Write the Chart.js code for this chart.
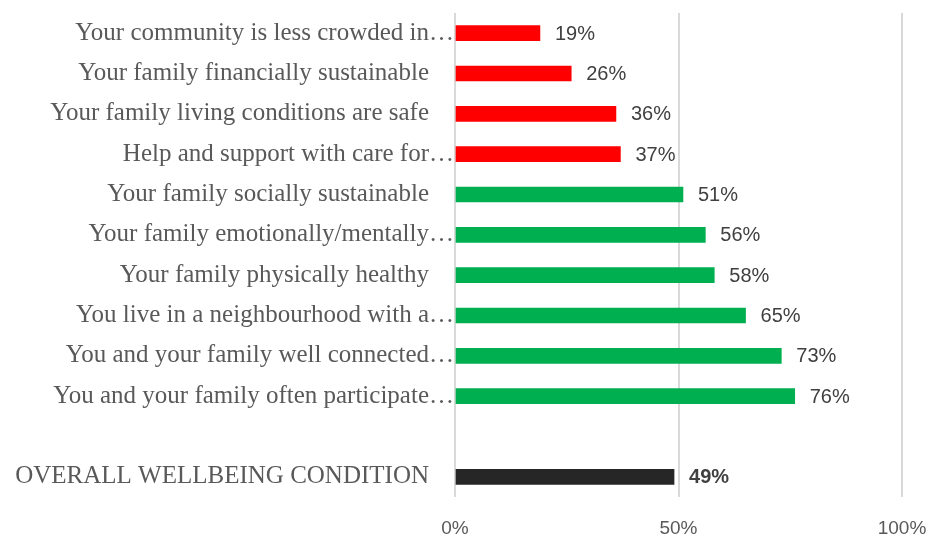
<!DOCTYPE html>
<html>
<head>
<meta charset="utf-8">
<script src="https://cdn.jsdelivr.net/npm/chart.js@4/dist/chart.umd.min.js"></script>
<style>
  html, body { margin: 0; padding: 0; background: #ffffff; }
  #wrap { width: 935px; height: 539px; }
</style>
</head>
<body>
<div id="wrap"><canvas id="c" width="935" height="539"></canvas></div>
<script>
// ---- data ----
const categories = [
  "Your community is less crowded in…",
  "Your family financially sustainable",
  "Your family living conditions are safe",
  "Help and support with care for…",
  "Your family socially sustainable",
  "Your family emotionally/mentally…",
  "Your family physically healthy",
  "You live in a neighbourhood with a…",
  "You and your family well connected…",
  "You and your family often participate…",
  "",
  "OVERALL WELLBEING CONDITION"
];
const values = [19, 26, 36, 37, 51, 56, 58, 65, 73, 76, null, 49];
const xTickLabels = ["0%", "50%", "100%"];

// ---- styles ----
const RED = "#FF0000", GREEN = "#00B050", DARK = "#262626";
const barColors = categories.map((c, i) => i < 4 ? RED : (i === categories.length - 1 ? DARK : GREEN));

const valueLabels = {
  id: 'valueLabels',
  afterDatasetsDraw(chart) {
    const ctx = chart.ctx;
    const meta = chart.getDatasetMeta(0);
    ctx.save();
    ctx.textAlign = 'left';
    ctx.textBaseline = 'middle';
    meta.data.forEach((bar, i) => {
      const v = values[i];
      if (v === null || v === undefined) return;
      const last = i === categories.length - 1;
      ctx.font = (last ? 'bold ' : '') + '20px "Liberation Sans", Arial, sans-serif';
      ctx.fillStyle = '#404040';
      ctx.fillText(v + '%', bar.x + 15, bar.y + 1);
    });
    ctx.restore();
  }
};

new Chart(document.getElementById('c'), {
  type: 'bar',
  data: {
    labels: categories,
    datasets: [{
      data: values,
      backgroundColor: barColors,
      borderWidth: 0,
      barThickness: 15
    }]
  },
  options: {
    indexAxis: 'y',
    responsive: false,
    animation: false,
    layout: { padding: { top: 13, right: 0, bottom: 0, left: 0 } },
    plugins: { legend: { display: false }, tooltip: { enabled: false } },
    scales: {
      x: {
        min: 0, max: 100,
        ticks: {
          stepSize: 50,
          padding: 20,
          color: '#595959',
          font: { family: '"Liberation Sans", Arial, sans-serif', size: 19 },
          callback: (v) => xTickLabels[Math.round(v / 50)]
        },
        grid: { color: '#d9d9d9', lineWidth: 2, drawTicks: false },
        border: { display: false },
        afterFit: (s) => { s.height = 42; s.paddingRight = 33; s.paddingLeft = 0; }
      },
      y: {
        ticks: {
          padding: 1,
          color: '#595959',
          autoSkip: false,
          font: { family: '"Liberation Serif", "Times New Roman", serif', size: 25 },
          callback: function (v, i) {
            const l = categories[i];
            return (l === "" || l.endsWith('…')) ? l : l + '\u2003';
          }
        },
        grid: { display: false, drawTicks: false },
        border: { display: false },
        afterFit: (s) => { s.width = 455; s.paddingTop = 0; s.paddingBottom = 0; }
      }
    }
  },
  plugins: [valueLabels]
});
</script>
</body>
</html>
